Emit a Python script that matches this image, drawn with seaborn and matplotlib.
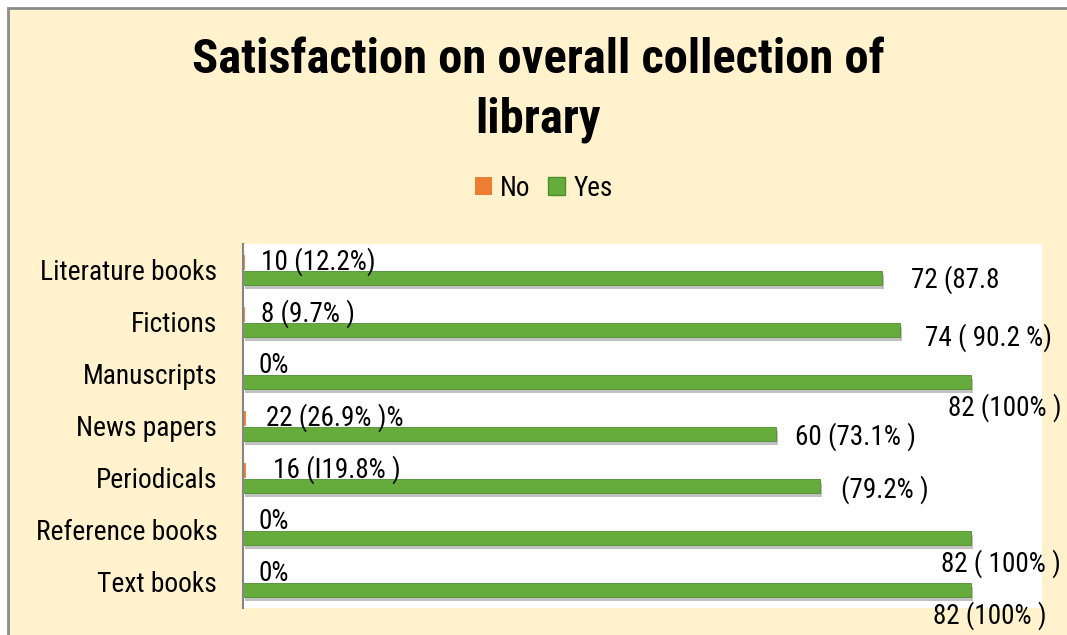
import pandas as pd
import matplotlib
matplotlib.use("Agg")
import matplotlib.pyplot as plt
import matplotlib.patheffects as pe
from matplotlib import font_manager
from matplotlib.patches import Patch, Rectangle
import seaborn as sns

categories = ['Literature books', 'Fictions', 'Manuscripts', 'News papers',
              'Periodicals', 'Reference books', 'Text books']
# the "No" series is almost invisible in the original chart
no_values = [0.122, 0.097, 0, 0.269, 0.198, 0, 0]
yes_values = [72, 74, 82, 60, 65, 82, 82]
no_labels = ['10 (12.2%)', '8 (9.7% )', '0%', '22 (26.9% )%', '16 (I19.8% )', '0%', '0%']
yes_labels = ['72 (87.8', '74 ( 90.2 %)', '82 (100% )', '60 (73.1% )', '(79.2% )',
              '82 ( 100% )', '82 (100% )']

df = pd.DataFrame({
    'Category': categories * 2,
    'Response': ['No'] * len(categories) + ['Yes'] * len(categories),
    'Count': no_values + yes_values,
})

sns.set_style('white')

# narrow face (like the original's) if one is installed
installed = {f.name for f in font_manager.fontManager.ttflist}
narrow = None
for name in ['Roboto Condensed', 'Liberation Sans Narrow', 'Open Sans Condensed']:
    if name in installed:
        narrow = name
        break
if narrow:
    plt.rcParams['font.family'] = [narrow, 'DejaVu Sans']
    title_size, txt_size, lab_size = 35, 19.5, 19.8
else:
    plt.rcParams['font.family'] = ['DejaVu Sans']
    title_size, txt_size, lab_size = 25, 15, 16
plt.rcParams['text.color'] = 'black'
plt.rcParams['ytick.color'] = 'black'

fig = plt.figure(figsize=(10.67, 6.35), dpi=100, facecolor='white')
fig.patches.append(Rectangle((8 / 1067, -0.1), 1.2, 1 - 8 / 635 + 0.1, transform=fig.transFigure,
                             facecolor='#FFF2CC', edgecolor='#8C8C8C', lw=2, zorder=-1))
ax = fig.add_axes([243 / 1067, 1 - 608 / 635, (1042 - 243) / 1067, (608 - 244) / 635])
ax.set_facecolor('white')

palette = {'No': '#ED7D31', 'Yes': '#66AC3C'}
sns.barplot(data=df, y='Category', x='Count', hue='Response', hue_order=['No', 'Yes'],
            palette=palette, orient='h', width=0.62, gap=0.1, ax=ax, legend=False,
            saturation=1, edgecolor='#4E8E2D', linewidth=0.6)
shadow = [pe.SimplePatchShadow(offset=(1.5, -3), shadow_rgbFace='#999999', alpha=0.6), pe.Normal()]
for bar in ax.containers[1]:
    bar.set_path_effects(shadow)
for bar in ax.containers[0]:
    bar.set_edgecolor('#ED7D31')

ax.set_xlim(0, 90)
ax.set_xlabel('')
ax.set_ylabel('')
ax.set_xticks([])
ax.tick_params(axis='y', length=0, pad=18.5, labelsize=lab_size, labelcolor='black')
for s in ['top', 'right', 'bottom']:
    ax.spines[s].set_visible(False)
ax.spines['left'].set_color('#868686')
ax.spines['left'].set_linewidth(1.5)

# label offsets in pixels from the end of each bar
no_dx = [17, 17, 15, 21, 28, 15, 15]
yes_off = [(29, -2), (25, -8), (-23, -26), (19, -3), (21, -4), (-30, -26), (-38, -26)]
for bar, lab, dx in zip(ax.containers[0], no_labels, no_dx):
    ax.annotate(lab, (bar.get_width(), bar.get_y() + bar.get_height() / 2),
                xytext=(dx, 0), textcoords='offset pixels', ha='left', va='center', fontsize=txt_size)
for bar, lab, (dx, dy) in zip(ax.containers[1], yes_labels, yes_off):
    ax.annotate(lab, (bar.get_width(), bar.get_y() + bar.get_height() / 2),
                xytext=(dx, dy), textcoords='offset pixels', ha='left', va='center',
                fontsize=txt_size, annotation_clip=False)

fig.text(538 / 1067, 1 - 90 / 635, 'Satisfaction on overall collection of\nlibrary',
         ha='center', va='center', fontsize=title_size, fontweight='bold',
         linespacing=1.55 if title_size < 30 else 1.36)

handles = [Patch(facecolor=palette['No'], edgecolor='none'),
           Patch(facecolor=palette['Yes'], edgecolor='#4E8E2D')]
fig.legend(handles, ['No', 'Yes'], loc='center', bbox_to_anchor=(544 / 1067, 1 - 188 / 635),
           ncol=2, frameon=False, handlelength=0.62, handleheight=0.62, handletextpad=0.3,
           columnspacing=0.65, fontsize=txt_size)

fig.savefig('out.png', dpi=100)
